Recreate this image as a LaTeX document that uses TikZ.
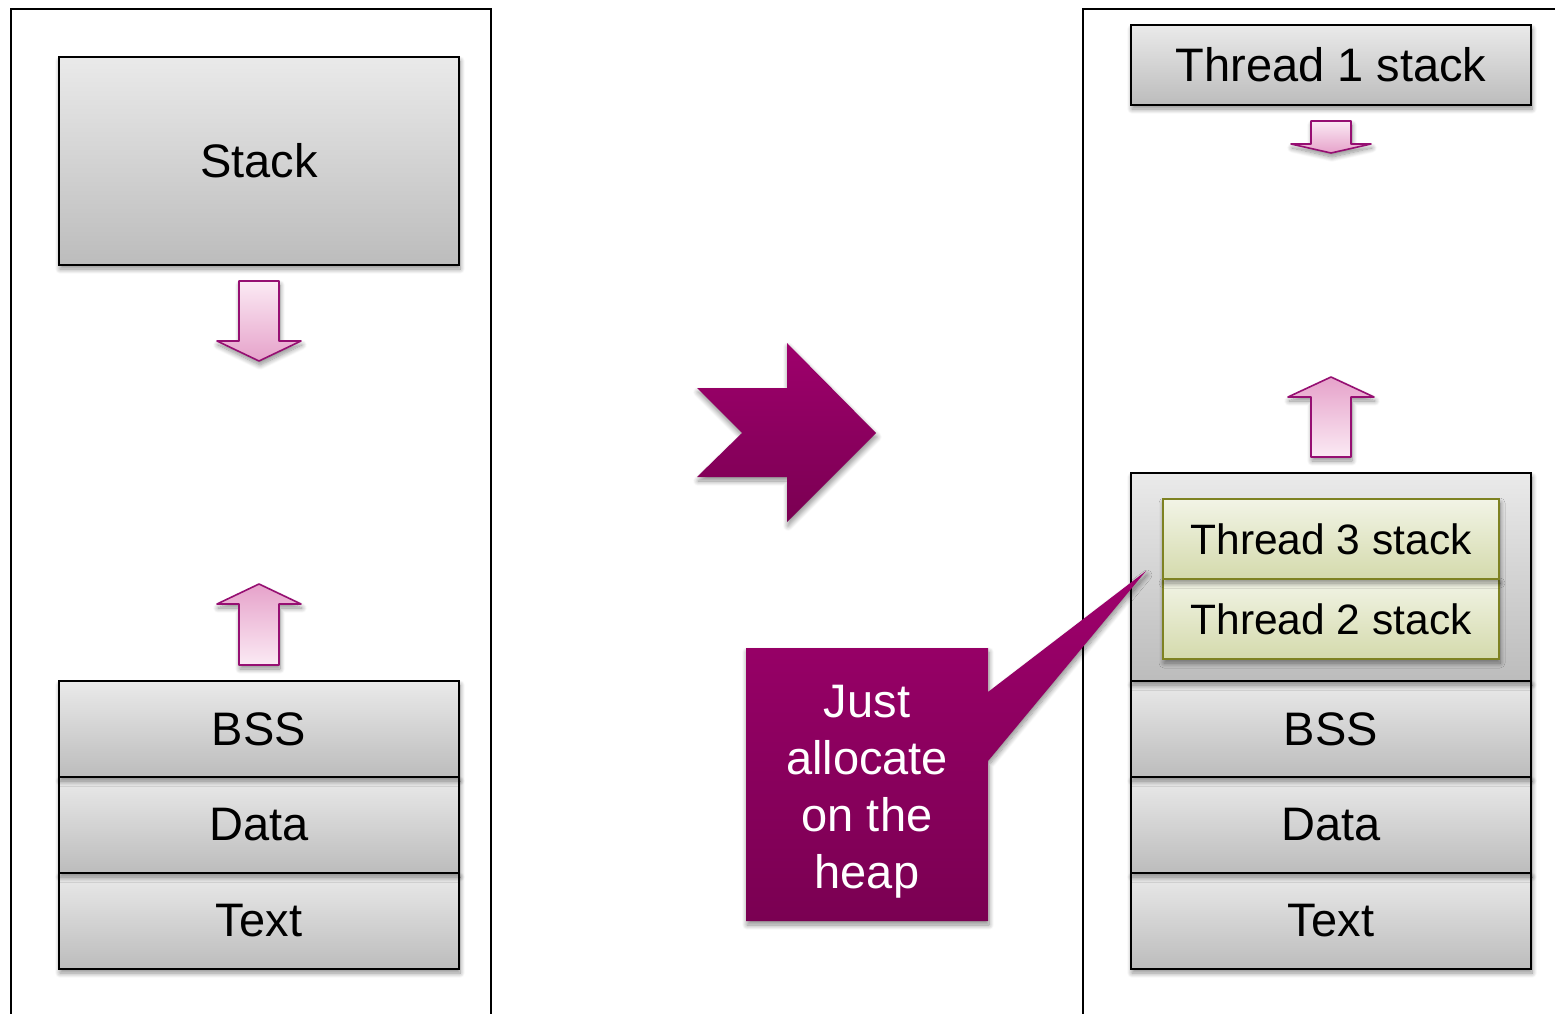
\documentclass[tikz,border=0pt]{standalone}
\usepackage{fontspec}
\setmainfont{Liberation Sans}
\usetikzlibrary{shadows.blur}

\definecolor{boxtop}{HTML}{EAEAEA}
\definecolor{boxbot}{HTML}{BCBCBC}
\definecolor{thrtop}{HTML}{F2F4E6}
\definecolor{thrbot}{HTML}{D4DAAC}
\definecolor{thrline}{HTML}{7E8222}
\definecolor{plum}{HTML}{9E006C}
\definecolor{plumdark}{HTML}{7A0052}
\definecolor{pinklight}{HTML}{FBEAF4}
\definecolor{pinkdark}{HTML}{E6A2CA}
\definecolor{arrowline}{HTML}{960F72}

\tikzset{
  softshadow/.style={blur shadow={shadow xshift=1pt, shadow yshift=-4pt,
      shadow blur radius=5pt, shadow blur steps=10, shadow opacity=45}},
  segbox/.style={draw=black, line width=1.8pt, top color=boxtop, bottom color=boxbot,
      minimum width=400pt, inner sep=0pt, outer sep=0pt,
      font=\fontsize{47}{56}\selectfont, softshadow},
  thrbox/.style={draw=thrline, line width=1.6pt, top color=thrtop, bottom color=thrbot,
      minimum width=336pt, minimum height=80pt, inner sep=0pt, outer sep=0pt,
      font=\fontsize{42.5}{51}\selectfont, softshadow},
  frame/.style={draw=black, line width=1.6pt},
  growdown/.style={draw=arrowline, line width=1.6pt, line join=round,
      top color=pinklight, bottom color=pinkdark, softshadow},
  growup/.style={draw=arrowline, line width=1.6pt, line join=round,
      top color=pinkdark, bottom color=pinklight, softshadow},
  plumshape/.style={top color=plum, bottom color=plumdark, draw=none, softshadow},
}

\begin{document}
\begin{tikzpicture}[x=1pt, y=-1pt]
\useasboundingbox (0,0) rectangle (1555,1014);

% address-space frames (open at the bottom, right one runs off the edge)
\draw[frame] (11,1030) -- (11,9) -- (491,9) -- (491,1030);
\draw[frame] (1083,1030) -- (1083,9) -- (1570,9);

% ---- single-threaded layout ----
\node[segbox, minimum height=208pt] (stack) at (259,161) {Stack};
\node[segbox, minimum height=96pt] (textL) at (259,921) {Text};
\node[segbox, minimum height=96pt] (dataL) at (259,825) {Data};
\node[segbox, minimum height=96pt] (bssL)  at (259,729) {BSS};

% stack grows down, heap grows up
\path[growdown] (239,281) -- (279,281) -- (279,341) -- (301,341) -- (259,361)
  -- (217,341) -- (239,341) -- cycle;
\path[growup] (259,584) -- (301,604) -- (279,604) -- (279,665) -- (239,665)
  -- (239,604) -- (217,604) -- cycle;

% ---- transition ----
\path[plumshape] (697,388) -- (787,388) -- (787,343) -- (876,433) -- (787,522)
  -- (787,477) -- (697,477) -- (742,433) -- cycle;

% ---- multi-threaded layout ----
\node[segbox, minimum height=80pt] (t1) at (1331,65) {Thread 1 stack};
\path[growdown] (1311,121) -- (1351,121) -- (1351,144) -- (1371,144) -- (1331,153)
  -- (1291,144) -- (1311,144) -- cycle;

\node[segbox, minimum height=96pt] (textR) at (1331,921) {Text};
\node[segbox, minimum height=96pt] (dataR) at (1331,825) {Data};
\node[segbox, minimum height=96pt] (bssR)  at (1331,729) {BSS};
\node[segbox, minimum height=208pt] (heap) at (1331,577) {};
\node[thrbox] (t2) at (1331,619) {Thread 2 stack};
\node[thrbox] (t3) at (1331,539) {Thread 3 stack};

\path[growup] (1331,377) -- (1374,397) -- (1351,397) -- (1351,457) -- (1311,457)
  -- (1311,397) -- (1288,397) -- cycle;

% callout pointing into the heap
\coordinate (tip) at (1146,571);
\path[plumshape] (746,648) -- (988,648) -- (988,692) -- (tip) -- (988,761)
  -- (988,921) -- (746,921) -- cycle;
\node[text=white, align=center, inner sep=0pt, font=\fontsize{47}{57}\selectfont]
  (note) at (867,792) {Just\\allocate\\on the\\heap};
\end{tikzpicture}
\end{document}
